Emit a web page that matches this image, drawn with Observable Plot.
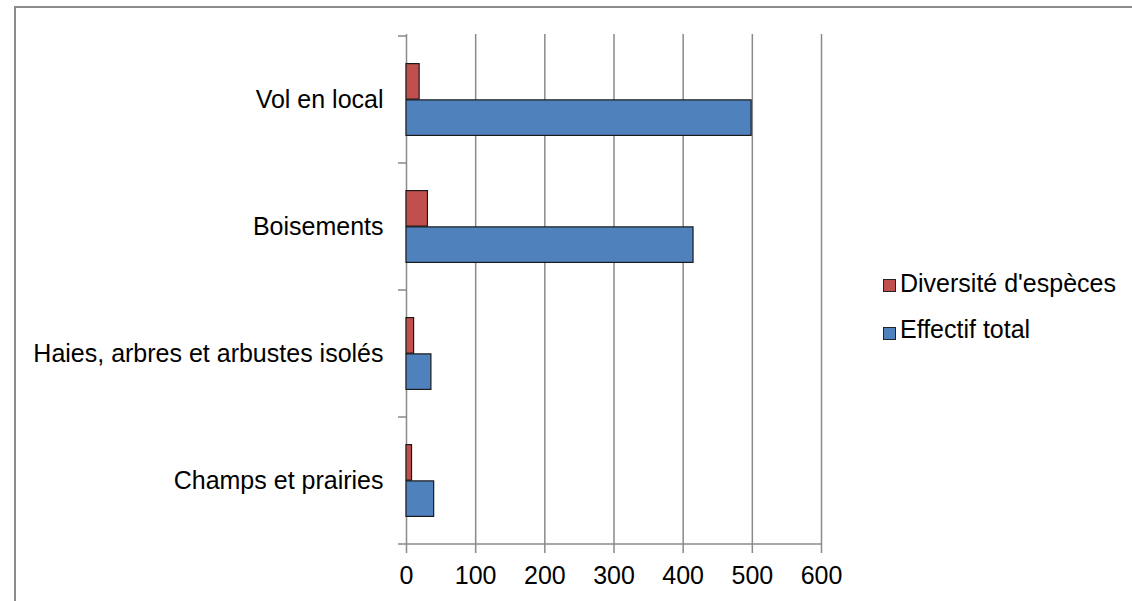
<!DOCTYPE html>
<html>
<head>
<meta charset="utf-8">
<script src="https://cdn.jsdelivr.net/npm/d3@7"></script>
<script src="https://cdn.jsdelivr.net/npm/@observablehq/plot@0.6"></script>
<style>
  body { margin: 0; background: #fff; overflow: hidden; }
  #wrap { position: relative; width: 1132px; height: 601px; font-family: "Liberation Sans", Arial, sans-serif; }
  #frame { position: absolute; left: 14px; top: 6px; width: 1300px; height: 800px;
           border-top: 2px solid #8c8c8c; border-left: 2px solid #8c8c8c; box-sizing: border-box; pointer-events: none; }
  .sw { position: absolute; width: 11px; height: 11px; border: 1px solid #222; box-sizing: content-box; }
  .lt { position: absolute; font-size: 25px; line-height: 30px; color: #000; white-space: nowrap; }
</style>
</head>
<body>
<div id="wrap"><div id="frame"></div></div>
<script>
// Habitats, listed top to bottom
const categories = ["Vol en local", "Boisements", "Haies, arbres et arbustes isolés", "Champs et prairies"];
// Number of species per habitat
const diversite = [19, 31, 11, 8];
// Total count of birds per habitat
const effectif = [499, 415, 36, 40];
const seriesNames = ["Diversité d'espèces", "Effectif total"];
const seriesColors = ["#C0504D", "#4F81BD"];
const xTicks = [0, 100, 200, 300, 400, 500, 600];

const width = 1132, height = 601;
const marginTop = 34, marginBottom = 56, marginLeft = 406, marginRight = 311;
const band = (height - marginTop - marginBottom) / categories.length;
const outerGap = band * 0.216;   // space between band edge and the bar pair
const barSize = band * 0.284;    // thickness of one bar
const axisGray = "#8a8a8a";

const rows = categories.flatMap((c, i) => [
  {category: c, series: seriesNames[0], value: diversite[i]},
  {category: c, series: seriesNames[1], value: effectif[i]}
]);

// Category axis: ticks on band boundaries plus the horizontal baseline
function categoryAxis(index, scales) {
  const {x, y} = scales;
  const bw = y.bandwidth();
  const x0 = x(xTicks[0]), x1 = x(xTicks[xTicks.length - 1]);
  const edges = categories.map(c => y(c)).concat([y(categories[categories.length - 1]) + bw]);
  const g = d3.create("svg:g").attr("stroke", axisGray).attr("stroke-width", 1.5);
  for (const e of edges) {
    g.append("line").attr("x1", x0 - 8).attr("x2", x0).attr("y1", e).attr("y2", e);
  }
  const yb = edges[edges.length - 1];
  g.append("line").attr("x1", x0).attr("x2", x1).attr("y1", yb).attr("y2", yb);
  return g.node();
}

const chart = Plot.plot({
  width, height, marginTop, marginBottom, marginLeft, marginRight,
  style: {fontFamily: "'Liberation Sans', Arial, sans-serif", fontSize: "25px", color: "#000", background: "transparent"},
  x: {domain: [0, 600]},
  y: {domain: categories, padding: 0},
  marks: [
    Plot.gridX(xTicks, {stroke: axisGray, strokeOpacity: 1, strokeWidth: 1.5}),
    Plot.barX(rows.filter(d => d.series === seriesNames[0]), {
      x: "value", y: "category", fill: seriesColors[0], stroke: "#1a1a1a", strokeWidth: 1.2,
      insetTop: outerGap, insetBottom: band - outerGap - barSize
    }),
    Plot.barX(rows.filter(d => d.series === seriesNames[1]), {
      x: "value", y: "category", fill: seriesColors[1], stroke: "#1a1a1a", strokeWidth: 1.2,
      insetTop: outerGap + barSize, insetBottom: outerGap
    }),
    categoryAxis,
    Plot.axisX(xTicks, {tickSize: 8, tickPadding: 13, stroke: axisGray, strokeWidth: 1.5, fill: "#000", fontSize: 25, label: null}),
    Plot.axisY({tickSize: 0, tickPadding: 23, fill: "#000", fontSize: 25, label: null})
  ]
});
chart.style.position = "absolute";
chart.style.left = "0px";
chart.style.top = "0px";
const wrap = document.getElementById("wrap");
wrap.insertBefore(chart, wrap.firstChild);

// Legend on the right
const legendPos = [{sw: 279, text: 268}, {sw: 327, text: 313.5}];
seriesNames.forEach((name, i) => {
  const sw = document.createElement("div");
  sw.className = "sw";
  sw.style.left = "883px";
  sw.style.top = legendPos[i].sw + "px";
  sw.style.background = seriesColors[i];
  wrap.appendChild(sw);
  const t = document.createElement("div");
  t.className = "lt";
  t.style.left = "900px";
  t.style.top = legendPos[i].text + "px";
  t.textContent = name;
  wrap.appendChild(t);
});
</script>
</body>
</html>
